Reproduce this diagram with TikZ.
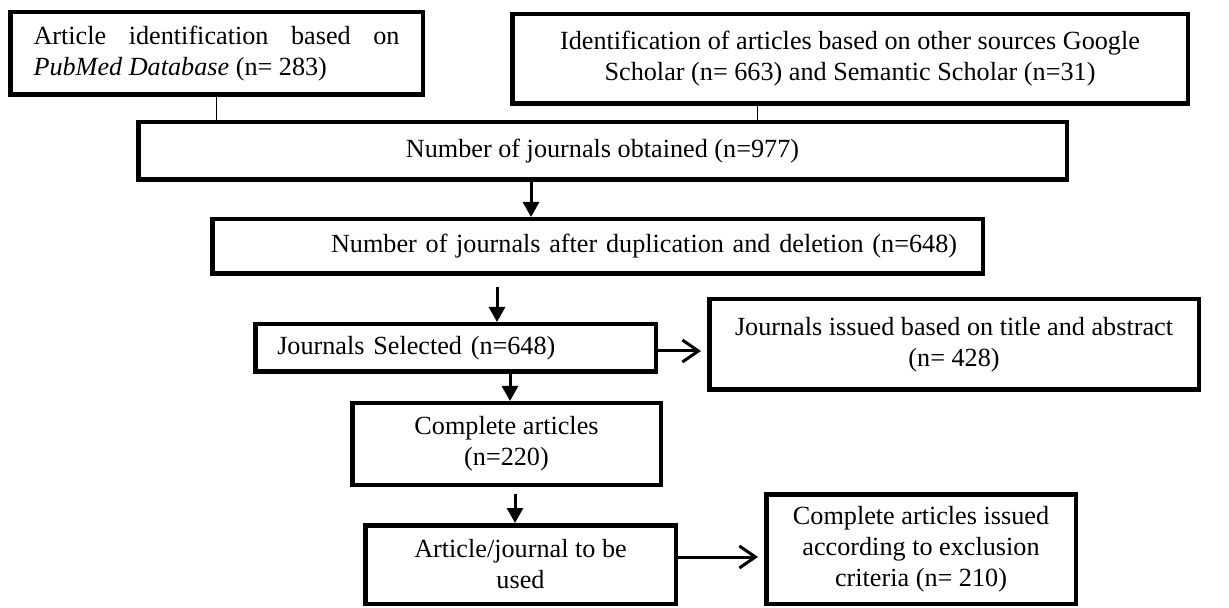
\documentclass[tikz,border=0pt]{standalone}
\usepackage{fontspec}
\setmainfont{Liberation Serif}
\usetikzlibrary{arrows.meta}

\begin{document}
\begin{tikzpicture}[x=0.5pt,y=-0.5pt,
  box/.style={draw, line width=2.25pt, inner sep=0pt, align=center,
    font=\fontsize{13.1}{15.5}\selectfont},
  thin/.style={line width=0.5pt},
  down/.style={line width=1.5pt, -{Triangle[width=8pt,length=7.5pt]}},
  side/.style={line width=1.5pt, shorten >=3pt,
    -{Straight Barb[width=11pt,length=8pt,line width=1.5pt]}}]
\useasboundingbox (0,0) rectangle (1229,608);
% sources
\node[box, minimum width=206.25pt, minimum height=41.25pt, text width=183pt, align=justify]
  (A) at (216.5,53.5) {Article identification based on \textit{PubMed Database} (n= 283)};
\node[box, minimum width=337.75pt, minimum height=44.75pt]
  (B) at (850,59) {Identification of articles based on other sources Google\\Scholar (n= 663) and Semantic Scholar (n=31)};
% screening
\node[box, minimum width=464.25pt, minimum height=28.75pt]
  (C) at (602.5,151) {Number of journals obtained (n=977)};
\node[box, minimum width=385.25pt, minimum height=27.25pt, text width=359.5pt, align=right]
  (D) at (597.5,246.5) {Number of journals after duplication and deletion (n=648)};
\node[box, minimum width=200.25pt, minimum height=23.75pt, text width=178.25pt, align=left]
  (E) at (455.5,348) {Journals Selected (n=648)};
\node[box, minimum width=244.75pt, minimum height=45.25pt]
  (F) at (954,344.5) {Journals issued based on title and abstract\\(n= 428)};
\node[box, minimum width=154.25pt, minimum height=40.75pt]
  (G) at (506.5,444) {Complete articles\\(n=220)};
\node[box, minimum width=155.25pt, minimum height=39.25pt]
  (H) at (520.5,564.5) {Article/journal to be\\used};
\node[box, minimum width=154.75pt, minimum height=54.75pt]
  (I) at (921,549) {Complete articles issued\\according to exclusion\\criteria (n= 210)};
% connectors
\coordinate (bc) at (757,104);
\coordinate (cd) at (531,181);
\coordinate (de) at (497,287);
\coordinate (eg) at (510,373);
\coordinate (gh) at (515,494);
\draw[thin] (A.south) -- (A.south |- C.north);
\draw[thin] (bc) -- (bc |- C.north);
\draw[down] (cd) -- (cd |- D.north);
\draw[down] (de) -- (de |- E.north);
\draw[down] (eg) -- (eg |- G.north);
\draw[down] (gh) -- (gh |- H.north);
\draw[side] ([yshift=-1.5pt]E.east) -- ([yshift=-1.5pt]E.east -| F.west);
\draw[side] ([yshift=3.75pt]H.east) -- ([yshift=3.75pt]H.east -| I.west);
\end{tikzpicture}
\end{document}
